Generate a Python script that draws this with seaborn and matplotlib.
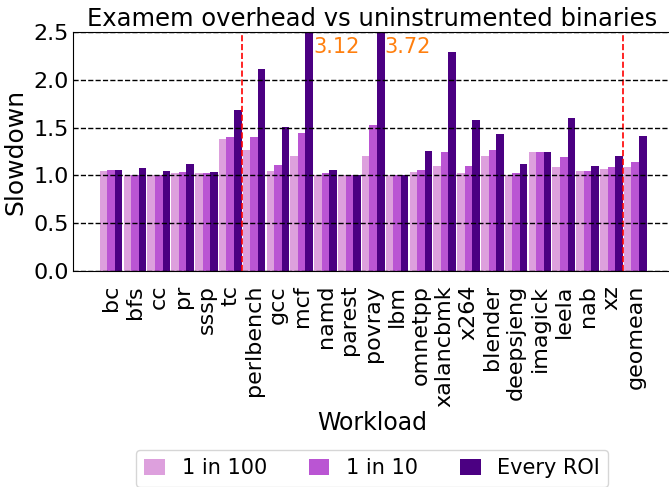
import pandas as pd
import seaborn as sns
import matplotlib.pyplot as plt

# Workloads and slowdowns
workloads = ['bc', 'bfs', 'cc', 'pr', 'sssp', 'tc', 'perlbench', 'gcc', 'mcf',
             'namd', 'parest', 'povray', 'lbm', 'omnetpp', 'xalancbmk', 'x264',
             'blender', 'deepsjeng', 'imagick', 'leela', 'nab', 'xz', 'geomean']
one_in_100 = [1.05, 1.00, 1.00, 1.03, 1.02, 1.38, 1.27, 1.05, 1.20, 1.00, 1.00, 1.20,
              1.00, 1.04, 1.10, 1.03, 1.20, 1.00, 1.25, 1.09, 1.05, 1.07, 1.09]
one_in_10 = [1.06, 1.00, 1.00, 1.04, 1.02, 1.40, 1.40, 1.11, 1.44, 1.02, 1.00, 1.53,
             1.00, 1.06, 1.24, 1.10, 1.27, 1.03, 1.25, 1.19, 1.05, 1.09, 1.14]
every_roi = [1.06, 1.08, 1.05, 1.12, 1.04, 1.68, 2.11, 1.51, 3.12, 1.06, 1.00, 3.72,
             1.00, 1.26, 2.29, 1.58, 1.43, 1.12, 1.25, 1.60, 1.10, 1.20, 1.41]
series = ['1 in 100', '1 in 10', 'Every ROI']
colors = ['#DDA0DD', '#BA55D3', '#4B0082']
separators = [5.5, 21.5]
ymax = 2.5

# Long format for seaborn
data = pd.DataFrame({
    'Workload': workloads * 3,
    'Slowdown': one_in_100 + one_in_10 + every_roi,
    'Sampling': [s for s in series for _ in workloads],
})

plt.rcParams['font.family'] = 'DejaVu Sans'

fig = plt.figure(figsize=(6.69, 4.87), dpi=100)
ax = fig.add_axes([73 / 669, 1 - 271 / 487, 598 / 669, 239 / 487])

sns.barplot(data=data, x='Workload', y='Slowdown', hue='Sampling',
            palette=colors, width=0.95, linewidth=0, saturation=1, ax=ax)

ax.set_ylim(0, ymax)
ax.set_xlim(-1.6, 23.5)
ax.set_yticks([0.0, 0.5, 1.0, 1.5, 2.0, 2.5])
ax.set_yticklabels(['0.0', '0.5', '1.0', '1.5', '2.0', '2.5'])

# Dashed grid drawn over the bars
ax.set_axisbelow(False)
ax.yaxis.grid(True, linestyle='--', color='black', linewidth=1)

for x in separators:
    ax.axvline(x, color='red', linestyle='--', linewidth=1.2)

# Label bars that run off the top
for i, v in enumerate(every_roi):
    if v > ymax:
        ax.text(i + 0.48, 2.28, f'{v:.2f}', color='#ff7f0e', fontsize=15,
                ha='left', va='baseline')

ax.set_title('Examem overhead vs uninstrumented binaries', fontsize=17.5, pad=4)
ax.set_xlabel('Workload', fontsize=17, labelpad=3)
ax.set_ylabel('Slowdown', fontsize=18)
ax.tick_params(axis='x', labelsize=16, rotation=90, length=0, pad=10)
ax.tick_params(axis='y', labelsize=16, length=0, pad=3)

ax.legend(loc='upper center', bbox_to_anchor=(0.5, -0.749), borderaxespad=0,
          ncol=3, fontsize=15, handlelength=1.0, handleheight=0.8, title=None)

fig.savefig('out.png', dpi=100)
